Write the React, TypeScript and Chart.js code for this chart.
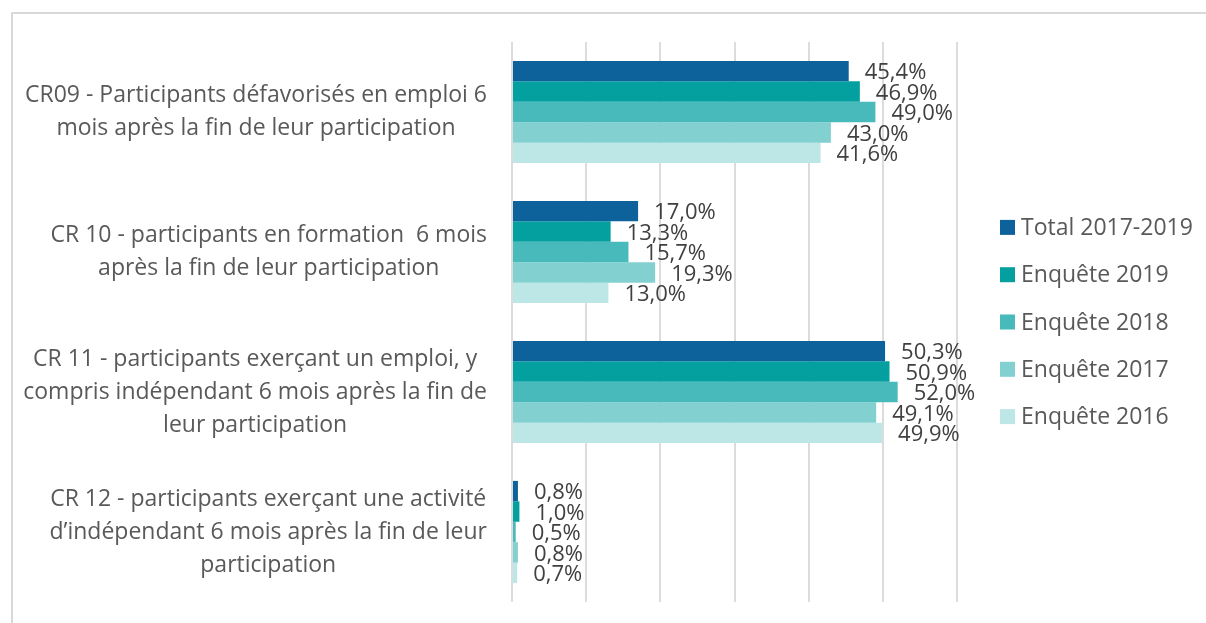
import React, { useEffect, useRef } from "react";
import { Chart, registerables } from "chart.js";

Chart.register(...registerables);

const categories: string[][] = [
  ["CR09 - Participants défavorisés en emploi 6", "mois après la fin de leur participation"],
  ["CR 10 - participants en formation  6 mois", "après la fin de leur participation"],
  ["CR 11 - participants exerçant un emploi, y", "compris indépendant 6 mois après la fin de", "leur participation"],
  ["CR 12 - participants exerçant une activité", "d’indépendant 6 mois après la fin de leur", "participation"],
];
const seriesNames = ["Total 2017-2019", "Enquête 2019", "Enquête 2018", "Enquête 2017", "Enquête 2016"];
const total20172019 = [45.4, 17.0, 50.3, 0.8];
const enquete2019 = [46.9, 13.3, 50.9, 1.0];
const enquete2018 = [49.0, 15.7, 52.0, 0.5];
const enquete2017 = [43.0, 19.3, 49.1, 0.8];
const enquete2016 = [41.6, 13.0, 49.9, 0.7];
const seriesValues = [total20172019, enquete2019, enquete2018, enquete2017, enquete2016];
const seriesColors = ["#0E629B", "#03A09F", "#48BABB", "#83D0D1", "#BDE6E7"];
const xMin = 0;
const xMax = 60;
const xStep = 10;

const FONT = "'Open Sans', 'Noto Sans', sans-serif";

const fmt = (v: number) => v.toFixed(1).replace(".", ",") + "%";

const categoryLabelPlugin = {
  id: "categoryLabels",
  afterDraw(chart: any) {
    const ctx = chart.ctx;
    const y = chart.scales.y;
    const rightX = 487;
    const lineH = 33;
    ctx.save();
    ctx.font = `23px ${FONT}`;
    ctx.fillStyle = "#595959";
    ctx.textAlign = "center";
    ctx.textBaseline = "middle";
    categories.forEach((lines, i) => {
      const cy = y.getPixelForValue(i);
      const widest = Math.max(...lines.map((l) => ctx.measureText(l).width));
      const cx = rightX - widest / 2;
      const startY = cy - ((lines.length - 1) * lineH) / 2;
      lines.forEach((l, j) => ctx.fillText(l, cx, startY + j * lineH));
    });
    ctx.restore();
  },
};

const legendPlugin = {
  id: "sideLegend",
  afterDraw(chart: any) {
    const ctx = chart.ctx;
    const area = chart.chartArea;
    const spacing = 47.3;
    const boxX = 1000;
    const box = 15;
    const cy = (area.top + area.bottom) / 2;
    const startY = cy - ((seriesNames.length - 1) * spacing) / 2;
    ctx.save();
    ctx.font = `23px ${FONT}`;
    ctx.textAlign = "left";
    ctx.textBaseline = "middle";
    seriesNames.forEach((name, i) => {
      const yy = startY + i * spacing;
      ctx.fillStyle = seriesColors[i];
      ctx.fillRect(boxX, yy - box / 2, box, box);
      ctx.fillStyle = "#595959";
      ctx.fillText(name, boxX + box + 6, yy + 1);
    });
    ctx.restore();
  },
};

const valueLabelPlugin = {
  id: "valueLabels",
  afterDatasetsDraw(chart: any) {
    const ctx = chart.ctx;
    ctx.save();
    ctx.font = `22px ${FONT}`;
    ctx.fillStyle = "#404040";
    ctx.textAlign = "left";
    ctx.textBaseline = "middle";
    chart.data.datasets.forEach((ds: any, di: number) => {
      const meta = chart.getDatasetMeta(di);
      meta.data.forEach((el: any, i: number) => {
        ctx.fillText(fmt(ds.data[i]), el.x + 16, el.y + 2);
      });
    });
    ctx.restore();
  },
};

export default function App() {
  const ref = useRef<HTMLCanvasElement | null>(null);
  useEffect(() => {
    if (!ref.current) return;
    const chart = new Chart(ref.current, {
      type: "bar",
      data: {
        labels: categories.map((c) => c.join(" ")),
        datasets: seriesNames.map((name, i) => ({
          label: name,
          data: seriesValues[i],
          backgroundColor: seriesColors[i],
          categoryPercentage: 0.73,
          barPercentage: 1.0,
        })),
      },
      options: {
        indexAxis: "y",
        animation: false,
        responsive: true,
        maintainAspectRatio: false,
        layout: { padding: { left: 512, top: 42, bottom: 21, right: 249 } },
        scales: {
          x: {
            min: xMin,
            max: xMax,
            ticks: { display: false, stepSize: xStep },
            grid: { color: "#DCDCDC", lineWidth: 2, drawTicks: false },
            border: { display: false },
          },
          y: { display: false },
        },
        plugins: {
          legend: { display: false },
          tooltip: { enabled: false },
        },
      },
      plugins: [categoryLabelPlugin, valueLabelPlugin, legendPlugin],
    } as any);
    return () => chart.destroy();
  }, []);

  return (
    <div style={{ position: "fixed", left: 0, top: 0, width: 1206, height: 623, overflow: "hidden", background: "#fff" }}>
      <div
        style={{
          position: "absolute",
          left: 11,
          top: 12,
          width: 1300,
          height: 700,
          borderTop: "2px solid #D9D9D9",
          borderLeft: "2px solid #D9D9D9",
        }}
      />
      <div style={{ position: "absolute", left: 0, top: 0, width: 1206, height: 623 }}>
        <canvas ref={ref} />
      </div>
    </div>
  );
}
